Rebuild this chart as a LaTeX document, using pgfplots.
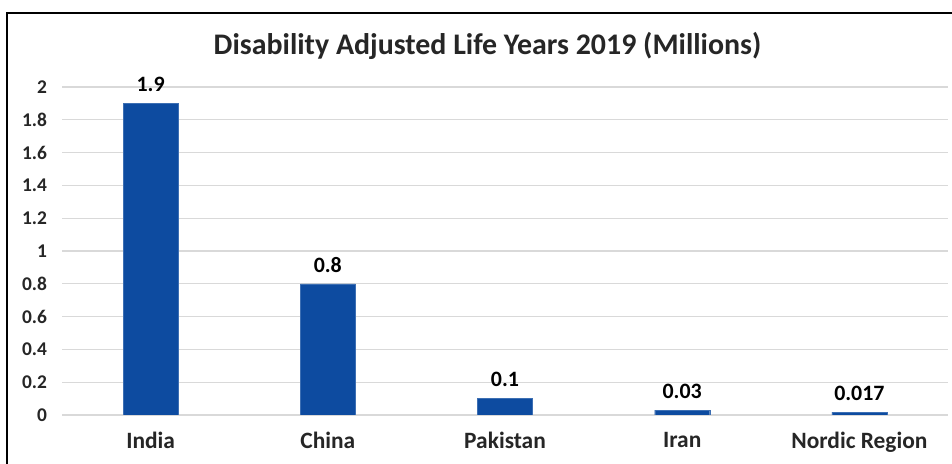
\documentclass[border=0pt]{standalone}
\usepackage{fontspec}
\setmainfont{Carlito}
\usepackage{pgfplots}
\pgfplotsset{compat=1.18}
\definecolor{barblue}{HTML}{0D4BA0}
\definecolor{gridgray}{HTML}{D9D9D9}
\definecolor{txt}{HTML}{262626}

\pgfplotstableread{
x y label
0 1.9 1.9
1 0.8 0.8
2 0.1 0.1
3 0.03 0.03
4 0.017 0.017
}\dalys

\begin{document}
\begin{tikzpicture}[x=1bp,y=1bp]
\useasboundingbox (0,0) rectangle (952,464);
\fill[white] (0,0) rectangle (952,464);
\draw[black, line width=2.2bp] (7,0) -- (7,451) -- (952,451);
\node[anchor=base, text=txt, font=\fontsize{30}{34}\selectfont\bfseries] at (487.5,409) {Disability Adjusted Life Years 2019 (Millions)};
\begin{axis}[
    at={(62bp,49bp)}, anchor=south west,
    scale only axis, width=886bp, height=328bp,
    xmin=-0.5, xmax=4.5, ymin=0, ymax=2,
    axis line style={draw=none},
    major tick length=0pt,
    ymajorgrids, grid style={gridgray, line width=1.3bp},
    ytick={0,0.2,0.4,0.6,0.8,1,1.2,1.4,1.6,1.8,2},
    yticklabels={0,0.2,0.4,0.6,0.8,1,1.2,1.4,1.6,1.8,2},
    xtick={0,1,2,3,4},
    xticklabels={India,China,Pakistan,Iran,Nordic Region},
    yticklabel style={text=txt, font=\fontsize{19.5}{22}\selectfont\bfseries, anchor=east, xshift=-11.5bp},
    xticklabel style={text=txt, font=\fontsize{23.5}{27}\selectfont\bfseries, anchor=north, yshift=-14bp},
    ybar, bar width=55bp,
    nodes near coords,
    point meta=explicit symbolic,
    nodes near coords style={text=black, font=\fontsize{22}{26}\selectfont\bfseries, anchor=south, yshift=8bp},
]
\addplot[fill=barblue, draw=barblue!80!white] table[x=x, y=y, meta=label] {\dalys};
\end{axis}
\end{tikzpicture}
\end{document}
